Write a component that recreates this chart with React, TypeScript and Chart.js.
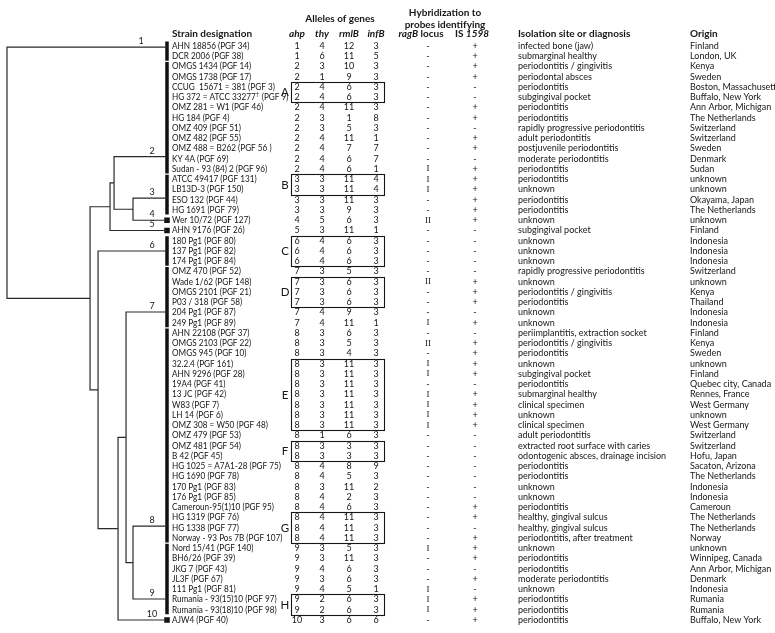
import React, { useEffect, useRef } from 'react';
import { Chart, registerables } from 'chart.js';
Chart.register(...registerables);

// ---------------- data ----------------
const strains = [
  'AHN 18856 (PGF 34)', 'DCR 2006 (PGF 38)', 'OMGS 1434 (PGF 14)', 'OMGS 1738 (PGF 17)',
  'CCUG  15671 = 381 (PGF 3)', 'HG 372 = ATCC 33277† (PGF 9)', 'OMZ 281 = W1 (PGF 46)', 'HG 184 (PGF 4)',
  'OMZ 409 (PGF 51)', 'OMZ 482 (PGF 55)', 'OMZ 488 = B262 (PGF 56 )', 'KY 4A (PGF 69)',
  'Sudan - 93 (84) 2 (PGF 96)', 'ATCC 49417 (PGF 131)', 'LB13D-3 (PGF 150)', 'ESO 132 (PGF 44)',
  'HG 1691 (PGF 79)', 'Wer 10/72 (PGF 127)', 'AHN 9176 (PGF 26)', '180 Pg1 (PGF 80)',
  '137 Pg1 (PGF 82)', '174 Pg1 (PGF 84)', 'OMZ 470 (PGF 52)', 'Wade 1/62 (PGF 148)',
  'OMGS 2101 (PGF 21)', 'P03 / 318 (PGF 58)', '204 Pg1 (PGF 87)', '249 Pg1 (PGF 89)',
  'AHN 22108 (PGF 37)', 'OMGS 2103 (PGF 22)', 'OMGS 945 (PGF 10)', '32.2.4 (PGF 161)',
  'AHN 9296 (PGF 28)', '19A4 (PGF 41)', '13 JC (PGF 42)', 'W83 (PGF 7)',
  'LH 14 (PGF 6)', 'OMZ 308 = W50 (PGF 48)', 'OMZ 479 (PGF 53)', 'OMZ 481 (PGF 54)',
  'B 42 (PGF 45)', 'HG 1025 = A7A1-28 (PGF 75)', 'HG 1690 (PGF 78)', '170 Pg1 (PGF 83)',
  '176 Pg1 (PGF 85)', 'Cameroun-95(1)10 (PGF 95)', 'HG 1319 (PGF 76)', 'HG 1338 (PGF 77)',
  'Norway - 93 Pos 7B (PGF 107)', 'Nord 15/41 (PGF 140)', 'BH6/26 (PGF 39)', 'JKG 7 (PGF 43)',
  'JL3F (PGF 67)', '111 Pg1 (PGF 81)', 'Rumania - 93(15)10 (PGF 97)', 'Rumania - 93(18)10 (PGF 98)',
  'AJW4 (PGF 40)',
];

const ahp = [1, 1, 2, 2, 2, 2, 2, 2, 2, 2, 2, 2, 2, 3, 3, 3, 3, 4, 5, 6, 6, 6, 7, 7, 7, 7, 7, 7,
  8, 8, 8, 8, 8, 8, 8, 8, 8, 8, 8, 8, 8, 8, 8, 8, 8, 8, 8, 8, 8, 9, 9, 9, 9, 9, 9, 9, 10];
const thy = [4, 6, 3, 1, 4, 4, 4, 3, 3, 4, 4, 4, 4, 3, 3, 3, 3, 5, 3, 4, 4, 4, 3, 3, 3, 3, 4, 4,
  3, 3, 3, 3, 3, 3, 3, 3, 3, 3, 1, 3, 3, 4, 4, 3, 4, 4, 4, 4, 4, 3, 3, 4, 3, 4, 2, 2, 3];
const rmlB = [12, 11, 10, 9, 6, 6, 11, 1, 5, 11, 7, 6, 6, 11, 11, 11, 9, 6, 11, 6, 6, 6, 5, 6, 6, 6, 9, 11,
  6, 5, 4, 11, 11, 11, 11, 11, 11, 11, 6, 3, 3, 8, 5, 11, 2, 6, 11, 11, 11, 5, 11, 6, 6, 5, 6, 6, 6];
const infB = [3, 5, 3, 3, 3, 3, 3, 8, 3, 1, 7, 7, 1, 4, 4, 3, 3, 3, 1, 3, 3, 3, 3, 3, 3, 3, 3, 1,
  3, 3, 3, 3, 3, 3, 3, 3, 3, 3, 3, 3, 3, 9, 3, 2, 3, 3, 3, 3, 3, 3, 3, 3, 3, 1, 3, 3, 6];
const ragB = ['-', '-', '-', '-', '-', '-', '-', '-', '-', '-', '-', '-', 'I', 'I', 'I', '-', '-', 'II', '-', '-', '-', '-', '-', 'II', '-', '-', '-', 'I',
  '-', 'II', '-', 'I', 'I', '-', 'I', 'I', 'I', 'I', '-', '-', '-', '-', '-', '-', '-', '-', '-', '-', '-', 'I', '-', '-', '-', 'I', 'I', 'I', '-'];
const is1598 = ['+', '+', '+', '+', '-', '-', '+', '+', '-', '+', '+', '-', '+', '+', '+', '+', '+', '+', '-', '-', '-', '-', '-', '+', '+', '+', '-', '+',
  '-', '+', '+', '+', '+', '-', '+', '+', '+', '+', '-', '-', '-', '-', '-', '-', '-', '+', '+', '-', '+', '+', '+', '-', '+', '-', '+', '+', '+'];
const isolation = [
  'infected bone (jaw)', 'submarginal healthy', 'periodontitis / gingivitis', 'periodontal absces',
  'periodontitis', 'subgingival pocket', 'periodontitis', 'periodontitis',
  'rapidly progressive periodontitis', 'adult periodontitis', 'postjuvenile periodontitis', 'moderate periodontitis',
  'periodontitis', 'periodontitis', 'unknown', 'periodontitis',
  'periodontitis', 'unknown', 'subgingival pocket', 'unknown',
  'unknown', 'unknown', 'rapidly progressive periodontitis', 'unknown',
  'periodontitis / gingivitis', 'periodontitis', 'unknown', 'unknown',
  'periimplantitis, extraction socket', 'periodontitis / gingivitis', 'periodontitis', 'unknown',
  'subgingival pocket', 'periodontitis', 'submarginal healthy', 'clinical specimen',
  'unknown', 'clinical specimen', 'adult periodontitis', 'extracted root surface with caries',
  'odontogenic absces, drainage incision', 'periodontitis', 'periodontitis', 'unknown',
  'unknown', 'periodontitis', 'healthy, gingival sulcus', 'healthy, gingival sulcus',
  'periodontitis, after treatment', 'unknown', 'periodontitis', 'periodontitis',
  'moderate periodontitis', 'unknown', 'periodontitis', 'periodontitis',
  'periodontitis',
];
const origin = [
  'Finland', 'London, UK', 'Kenya', 'Sweden', 'Boston, Massachusetts', 'Buffalo, New York',
  'Ann Arbor, Michigan', 'The Netherlands', 'Switzerland', 'Switzerland', 'Sweden', 'Denmark',
  'Sudan', 'unknown', 'unknown', 'Okayama, Japan', 'The Netherlands', 'unknown', 'Finland',
  'Indonesia', 'Indonesia', 'Indonesia', 'Switzerland', 'unknown', 'Kenya', 'Thailand',
  'Indonesia', 'Indonesia', 'Finland', 'Kenya', 'Sweden', 'unknown', 'Finland',
  'Quebec city, Canada', 'Rennes, France', 'West Germany', 'unknown', 'West Germany',
  'Switzerland', 'Switzerland', 'Hofu, Japan', 'Sacaton, Arizona', 'The Netherlands',
  'Indonesia', 'Indonesia', 'Cameroun', 'The Netherlands', 'The Netherlands', 'Norway',
  'unknown', 'Winnipeg, Canada', 'Ann Arbor, Michigan', 'Denmark', 'Indonesia', 'Rumania',
  'Rumania', 'Buffalo, New York',
];

// clusters (numbered 1-10) : first / last row, and row where the tree joins
const clusterNames = ['1', '2', '3', '4', '5', '6', '7', '8', '9', '10'];
const clusterFirst = [0, 2, 13, 17, 18, 19, 22, 28, 49, 56];
const clusterLast = [1, 12, 16, 17, 18, 21, 27, 48, 55, 56];
const clusterJoinRow = [0.1, 10.8, 14.85, 17, 18, 20, 25.95, 46.85, 53.95, 56];

// dendrogram merges (children: 'cN' cluster index, 'mN' earlier merge) and linkage distance
const mergeLeft = ['c2', 'c1', 'm1', 'c7', 'c6', 'm4', 'c5', 'm2', 'c0'];
const mergeRight = ['c3', 'm0', 'c4', 'c8', 'm3', 'c9', 'm5', 'm6', 'm7'];
const mergeDist = [0.2125, 0.331, 0.356, 0.2125, 0.256, 0.306, 0.431, 0.481, 1.0];

// boxed allele groups
const groupNames = ['A', 'B', 'C', 'D', 'E', 'F', 'G', 'H'];
const groupFirst = [4, 13, 19, 23, 31, 39, 46, 54];
const groupLast = [5, 14, 21, 25, 37, 40, 48, 55];

// ---------------- layout ----------------
const W = 775, H = 633;
const ROW0 = 46, ROWH = 10.25;
const BAR = 167, ROOT = 7;
const COL = {
  clusterLabel: 152, clusterLabelFirst: 141, strain: 172, letter: 285, boxL: 291, ahp: 297, thy: 322,
  rmlB: 349, infB: 376, boxR: 384, ragB: 428, is: 475, ragBHead: 421, isHead: 472, hyb: 445,
  alleles: 340, iso: 518, origin: 690,
};
const HEAD = { main: -1.15, alleles: -2.62, hyb1: -3.2, hyb2: -2.05 };
const STRAIN_SX = 0.91;
const FF = 'Lato, "Open Sans", sans-serif';
const INK = '#161616';

function nodeInfo() {
  const pos: Record<string, { d: number; y: number }> = {};
  clusterNames.forEach((_, i) => { pos['c' + i] = { d: 0, y: clusterJoinRow[i] }; });
  const segs: { x: number; y: number }[][] = [];
  mergeDist.forEach((d, i) => {
    const a = pos[mergeLeft[i]], b = pos[mergeRight[i]];
    segs.push([{ x: a.d, y: a.y }, { x: d, y: a.y }, { x: d, y: b.y }, { x: b.d, y: b.y }]);
    pos['m' + i] = { d, y: (a.y + b.y) / 2 };
  });
  return segs;
}

function richText(ctx: CanvasRenderingContext2D, segs: [string, string][], x: number, y: number, align: string) {
  const widths = segs.map(([t, f]) => { ctx.font = f; return ctx.measureText(t).width; });
  const total = widths.reduce((s, w) => s + w, 0);
  let cx = align === 'center' ? x - total / 2 : align === 'right' ? x - total : x;
  ctx.textAlign = 'left';
  segs.forEach(([t, f], i) => { ctx.font = f; ctx.fillText(t, cx, y); cx += widths[i]; });
}

const tablePlugin = {
  id: 'tableText',
  beforeDraw(chart: any) {
    const c = chart.ctx;
    c.save(); c.fillStyle = '#fff'; c.fillRect(0, 0, chart.width, chart.height); c.restore();
  },
  afterDatasetsDraw(chart: any) {
    const ctx: CanvasRenderingContext2D = chart.ctx;
    const X = (v: number) => chart.scales.x.getPixelForValue(v);
    const Y = (r: number) => chart.scales.y.getPixelForValue(r);
    ctx.save();
    ctx.fillStyle = INK;
    ctx.strokeStyle = INK;
    ctx.textBaseline = 'middle';
    const body = `9px ${FF}`;
    const bold = `bold 10px ${FF}`;
    const boldIt = `italic bold 10px ${FF}`;

    // headers
    ctx.font = bold; ctx.textAlign = 'left';
    ctx.fillText('Strain designation', X(COL.strain), Y(HEAD.main));
    ctx.fillText('Isolation site or diagnosis', X(COL.iso), Y(HEAD.main));
    ctx.fillText('Origin', X(COL.origin), Y(HEAD.main));
    ctx.textAlign = 'center';
    ctx.fillText('Alleles of genes', X(COL.alleles), Y(HEAD.alleles));
    ctx.fillText('Hybridization to', X(COL.hyb), Y(HEAD.hyb1));
    ctx.fillText('probes identifying', X(COL.hyb), Y(HEAD.hyb2));
    ctx.font = boldIt;
    ctx.fillText('ahp', X(COL.ahp), Y(HEAD.main));
    ctx.fillText('thy', X(COL.thy), Y(HEAD.main));
    ctx.fillText('rmlB', X(COL.rmlB), Y(HEAD.main));
    ctx.fillText('infB', X(COL.infB), Y(HEAD.main));
    richText(ctx, [['ragB', boldIt], [' locus', bold]], X(COL.ragBHead), Y(HEAD.main), 'center');
    richText(ctx, [['IS ', bold], ['1598', boldIt]], X(COL.isHead), Y(HEAD.main), 'center');

    // rows
    strains.forEach((s, r) => {
      const y = Y(r);
      ctx.font = body; ctx.textAlign = 'left';
      // strain designation, slightly condensed
      ctx.save();
      ctx.translate(X(COL.strain), y);
      ctx.scale(STRAIN_SX, 1);
      if (s.includes('†')) {
        const [a, b] = s.split('†');
        ctx.fillText(a, 0, 0);
        const wa = ctx.measureText(a).width;
        ctx.font = `6px ${FF}`;
        ctx.fillText('†', wa + 0.3, -3);
        const wd = ctx.measureText('†').width;
        ctx.font = body;
        ctx.fillText(b, wa + wd + 0.8, 0);
      } else {
        ctx.fillText(s, 0, 0);
      }
      ctx.restore();
      ctx.font = body; ctx.textAlign = 'left';
      ctx.fillText(isolation[r], X(COL.iso), y);
      ctx.fillText(origin[r], X(COL.origin), y);
      ctx.textAlign = 'center';
      ctx.fillText(String(ahp[r]), X(COL.ahp), y);
      ctx.fillText(String(thy[r]), X(COL.thy), y);
      ctx.fillText(String(rmlB[r]), X(COL.rmlB), y);
      ctx.fillText(String(infB[r]), X(COL.infB), y);
      ctx.font = ragB[r] === '-' ? body : `9px "Liberation Serif", serif`;
      ctx.fillText(ragB[r], X(COL.ragB), y);
      ctx.font = body;
      ctx.fillText(is1598[r], X(COL.is), y);
    });

    // group boxes
    ctx.lineWidth = 1.1;
    groupNames.forEach((g, i) => {
      const y0 = Math.round(Y(groupFirst[i] - 0.5)) + 0.5;
      const y1 = Math.round(Y(groupLast[i] + 0.5)) + 0.5;
      const x0 = Math.round(X(COL.boxL)) + 0.5, x1 = Math.round(X(COL.boxR)) + 0.5;
      ctx.strokeRect(x0, y0, x1 - x0, y1 - y0);
      ctx.font = `11.5px ${FF}`; ctx.textAlign = 'center';
      ctx.fillText(g, X(COL.letter), (Y(groupFirst[i]) + Y(groupLast[i])) / 2 + 0.5);
    });

    // cluster numbers
    ctx.font = `9px ${FF}`; ctx.textAlign = 'center'; ctx.textBaseline = 'bottom';
    clusterNames.forEach((n, i) => {
      const lx = i === 0 ? COL.clusterLabelFirst : COL.clusterLabel;
      ctx.fillText(n, X(lx), Y(clusterJoinRow[i]) - 1.5);
    });
    ctx.restore();
  },
};

export default function App() {
  const ref = useRef<HTMLCanvasElement>(null);
  useEffect(() => {
    const segs = nodeInfo();
    const treeDatasets = segs.map((pts) => ({
      data: pts, xAxisID: 'xt', yAxisID: 'y', showLine: true, pointRadius: 0,
      borderColor: '#2a2a2a', borderWidth: 1.2, fill: false, tension: 0,
    }));
    const barDatasets = clusterNames.map((_, i) => {
      const single = clusterFirst[i] === clusterLast[i];
      const pad = single ? 0.27 : 0.45;
      return {
        data: [{ x: 0, y: clusterFirst[i] - pad }, { x: 0, y: clusterLast[i] + pad }],
        xAxisID: 'xt', yAxisID: 'y', showLine: true, pointRadius: 0,
        borderColor: '#111', borderWidth: single ? 5.5 : 3.5, borderCapStyle: 'butt', fill: false,
      };
    });
    const range = BAR - ROOT;
    const chart = new Chart(ref.current!, {
      type: 'scatter',
      data: { datasets: [...treeDatasets, ...barDatasets] as any },
      options: {
        animation: false,
        responsive: false,
        maintainAspectRatio: false,
        devicePixelRatio: 1,
        layout: { padding: 0 },
        plugins: { legend: { display: false }, tooltip: { enabled: false } },
        events: [],
        scales: {
          x: { type: 'linear', min: 0, max: W, display: false },
          xt: {
            type: 'linear', axis: 'x', position: 'top', display: false, reverse: true,
            min: (BAR - W) / range, max: BAR / range,
          },
          y: {
            type: 'linear', display: false, reverse: true,
            min: -ROW0 / ROWH, max: (H - ROW0) / ROWH,
          },
        },
      } as any,
      plugins: [tablePlugin as any],
    });
    return () => chart.destroy();
  }, []);
  return (
    <div style={{ position: 'fixed', left: 0, top: 0, width: W, height: H, background: '#fff' }}>
      <canvas ref={ref} width={W} height={H} style={{ width: W, height: H, display: 'block' }} />
    </div>
  );
}
